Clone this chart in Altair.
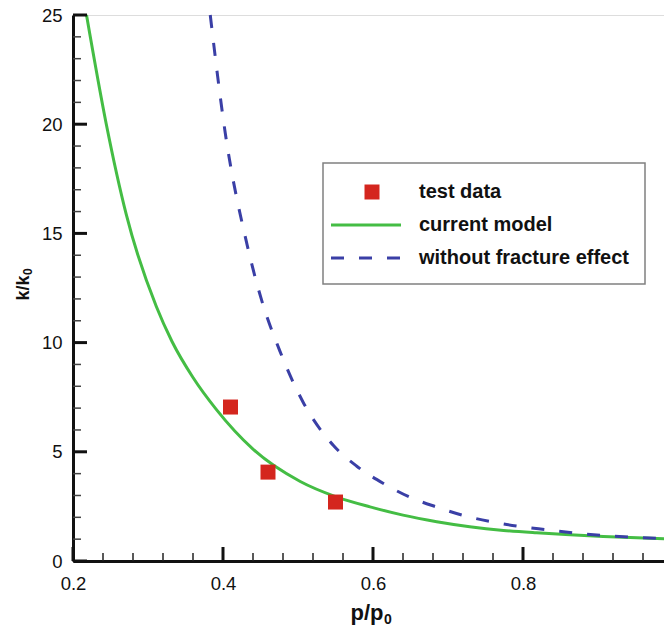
import altair as alt
import pandas as pd

# ---- data ----
test_p = [0.41, 0.46, 0.55]
test_k = [7.05, 4.07, 2.70]

model_p = [0.218, 0.2444, 0.271, 0.3111, 0.332, 0.36, 0.391, 0.44, 0.503, 0.55,
           0.596, 0.64, 0.685, 0.729, 0.774, 0.818, 0.863, 0.907, 0.952, 0.99]
model_k = [25.0, 20.0, 15.87, 11.65, 10.05, 8.4, 6.94, 5.12, 3.64, 2.95,
           2.48, 2.10, 1.80, 1.57, 1.40, 1.29, 1.20, 1.12, 1.06, 1.02]

nofrac_p = [0.383, 0.403, 0.432, 0.451, 0.476, 0.507, 0.547, 0.578, 0.614,
            0.648, 0.684, 0.719, 0.756, 0.794, 0.832, 0.869, 0.907, 0.944, 0.99]
nofrac_k = [25.0, 19.6, 14.5, 12.0, 9.6, 7.26, 5.3, 4.35, 3.55,
            2.94, 2.48, 2.10, 1.81, 1.59, 1.43, 1.28, 1.17, 1.09, 1.02]

series_names = ["test data", "current model", "without fracture effect"]

x_major = [0.2, 0.4, 0.6, 0.8, 1.0]
x_minor = [0.24, 0.28, 0.32, 0.36, 0.44, 0.48, 0.52, 0.56, 0.64, 0.68, 0.72, 0.76,
           0.84, 0.88, 0.92, 0.96]
y_major = [0, 5, 10, 15, 20, 25]
y_minor = [v for v in range(0, 26) if v % 5 != 0]

RED = "#d4261e"
GREEN = "#44bd44"
BLUE = "#3a3fa6"
INK = "#111111"
FONT = "Liberation Sans"

W, H = 600, 546

xs = alt.Scale(domain=[0.2, 1.0], nice=False, zero=False)
ys = alt.Scale(domain=[0, 25], nice=False, zero=True)

df_test = pd.DataFrame({"p": test_p, "k": test_k})
df_model = pd.DataFrame({"p": model_p, "k": model_k})
df_nofrac = pd.DataFrame({"p": nofrac_p, "k": nofrac_k})

x_enc = alt.X("p:Q", scale=xs, title=None,
              axis=alt.Axis(values=x_major, ticks=False, grid=False,
                            labelExpr="datum.value == 1 ? '1' : format(datum.value, '.1f')",
                            labelFontSize=18.5, labelFont=FONT, labelColor=INK,
                            labelPadding=13, domainColor=INK, domainWidth=3,
                            labelFlush=False))
y_enc = alt.Y("k:Q", scale=ys, title=None,
              axis=alt.Axis(values=y_major, ticks=False, grid=False,
                            labelFontSize=18.5, labelFont=FONT, labelColor=INK,
                            labelPadding=11, domainColor=INK, domainWidth=3,
                            labelFlush=False))

model_line = alt.Chart(df_model).mark_line(color=GREEN, strokeWidth=3,
                                           interpolate="monotone").encode(x=x_enc, y=y_enc)
nofrac_line = alt.Chart(df_nofrac).mark_line(color=BLUE, strokeWidth=3, strokeDash=[13, 15],
                                             interpolate="monotone").encode(
    x=alt.X("p:Q", scale=xs), y=alt.Y("k:Q", scale=ys))
test_pts = alt.Chart(df_test).mark_square(color=RED, size=225, opacity=1,
                                          filled=True).encode(
    x=alt.X("p:Q", scale=xs), y=alt.Y("k:Q", scale=ys))

# inward ticks
xmaj = alt.Chart(pd.DataFrame({"v": x_major})).mark_rule(color=INK, strokeWidth=3).encode(
    x=alt.X("v:Q", scale=xs), y=alt.value(H), y2=alt.value(H - 14))
xmin = alt.Chart(pd.DataFrame({"v": x_minor})).mark_rule(color="#222", strokeWidth=1.5).encode(
    x=alt.X("v:Q", scale=xs), y=alt.value(H), y2=alt.value(H - 8))
ymaj = alt.Chart(pd.DataFrame({"v": y_major})).mark_rule(color=INK, strokeWidth=3).encode(
    y=alt.Y("v:Q", scale=ys), x=alt.value(0), x2=alt.value(14))
ymin = alt.Chart(pd.DataFrame({"v": y_minor})).mark_rule(color="#444", strokeWidth=1.5).encode(
    y=alt.Y("v:Q", scale=ys), x=alt.value(0), x2=alt.value(8))

# axis titles with subscripts
one = pd.DataFrame({"a": [0]})
xt_main = alt.Chart(one).mark_text(text="p/p", font=FONT, fontSize=22, fontWeight="bold",
                                   color=INK, align="center", baseline="alphabetic").encode(
    x=alt.value(294), y=alt.value(605))
xt_sub = alt.Chart(one).mark_text(text="0", font=FONT, fontSize=14, fontWeight="bold",
                                  color=INK, align="left", baseline="alphabetic").encode(
    x=alt.value(311), y=alt.value(609))
yt_main = alt.Chart(one).mark_text(text="k/k", font=FONT, fontSize=18, fontWeight="bold",
                                   color=INK, align="center", baseline="alphabetic",
                                   angle=270).encode(
    x=alt.value(-44), y=alt.value(273))
yt_sub = alt.Chart(one).mark_text(text="0", font=FONT, fontSize=12, fontWeight="bold",
                                  color=INK, align="left", baseline="alphabetic",
                                  angle=270).encode(
    x=alt.value(-41), y=alt.value(260))

# manual legend
box = alt.Chart(one).mark_rect(fill="white", stroke="#808080", strokeWidth=1.5).encode(
    x=alt.value(250), x2=alt.value(572), y=alt.value(148), y2=alt.value(269))
leg_sq = alt.Chart(one).mark_square(color=RED, size=225, opacity=1).encode(
    x=alt.value(299), y=alt.value(177))
leg_g = alt.Chart(one).mark_rule(color=GREEN, strokeWidth=3).encode(
    x=alt.value(258), x2=alt.value(328), y=alt.value(210))
leg_b = alt.Chart(one).mark_rule(color=BLUE, strokeWidth=3, strokeDash=[13, 15]).encode(
    x=alt.value(258), x2=alt.value(328), y=alt.value(243))
leg_text = alt.Chart(pd.DataFrame({"label": series_names, "ypix": [177, 210, 243]})).mark_text(
    align="left", baseline="middle", font=FONT, fontSize=20, fontWeight="bold",
    color=INK).encode(x=alt.value(346), y=alt.Y("ypix:Q", scale=None), text="label:N")

chart = alt.layer(
    model_line, nofrac_line, test_pts, xmin, xmaj, ymin, ymaj,
    xt_main, xt_sub, yt_main, yt_sub,
    box, leg_sq, leg_g, leg_b, leg_text
).properties(
    width=W, height=H,
    autosize=alt.AutoSizeParams(type="none"),
    padding={"left": 65, "top": 7, "right": -9, "bottom": 65},
).configure_view(stroke=None).configure(background="white")

chart.save("out.html", embed_options={"renderer": "svg", "actions": False})
